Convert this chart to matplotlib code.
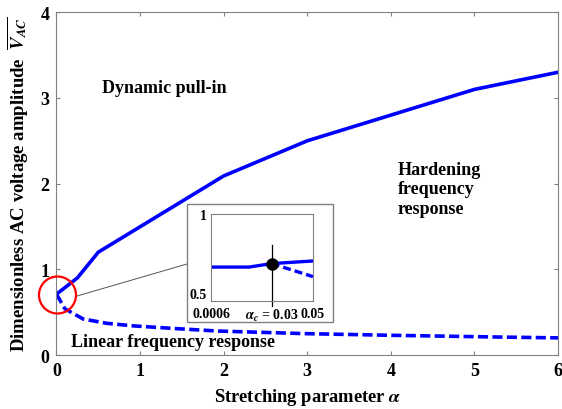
import numpy as np
import matplotlib
matplotlib.use("Agg")
import matplotlib.pyplot as plt
from matplotlib.patches import Ellipse, Rectangle
from matplotlib.lines import Line2D

plt.rcParams['font.family'] = ['Liberation Serif', 'DejaVu Serif']
plt.rcParams['font.weight'] = 'bold'
plt.rcParams['mathtext.fontset'] = 'stix'

# main curves
alpha_hard = [0.0, 0.25, 0.5, 2.0, 3.0, 4.0, 5.0, 6.0]
v_hard = [0.71, 0.9, 1.2, 2.09, 2.5, 2.8, 3.1, 3.3]
alpha_lin = [0.0, 0.1, 0.32, 0.6, 0.92, 1.4, 1.92, 2.95, 4.0, 5.27, 6.0]
v_lin = [0.71, 0.54, 0.42, 0.37, 0.34, 0.31, 0.28, 0.25, 0.23, 0.21, 0.2]

# inset (zoom near alpha_c)
alpha_c = 0.03
v_c = 0.715
in_alpha_hard = [0.0006, 0.019, 0.03, 0.05]
in_v_hard = [0.695, 0.695, 0.715, 0.73]
in_alpha_lin = [0.03, 0.05]
in_v_lin = [0.715, 0.64]

blue = '#0000FF'
gray = '#808080'
W, H = 562, 410

fig = plt.figure(figsize=(5.62, 4.10), dpi=100)
ax = fig.add_axes([0.1005, 0.1317, 0.8925, 0.8359])

ax.plot(alpha_hard, v_hard, color=blue, lw=2.6, solid_joinstyle='miter')
ax.plot(alpha_lin, v_lin, color=blue, lw=2.6, ls=(0, (2.8, 1.2)))

ax.set_xlim(0, 6)
ax.set_ylim(0, 4)
ax.set_xticks(range(7))
ax.set_yticks(range(5))
for s in ax.spines.values():
    s.set_color(gray)
    s.set_linewidth(0.8)
ax.tick_params(direction='in', length=3, color=gray, labelsize=13, top=True, right=True, pad=5)
for lab in ax.get_xticklabels() + ax.get_yticklabels():
    lab.set_fontweight('bold')

ax.set_xlabel(r'Stretching parameter $\alpha$', fontsize=13.3, fontweight='bold', labelpad=5)
ax.set_ylabel(r'Dimensionless AC voltage amplitude  $\overline{V_{AC}}$', fontsize=13.5,
              fontweight='bold', labelpad=7)

ax.text(0.55, 3.12, 'Dynamic pull-in', fontsize=13, fontweight='bold', va='center')
ax.text(4.08, 2.27, 'Hardening\nfrequency\nresponse', fontsize=13, fontweight='bold',
        va='top', linespacing=1.2)
ax.text(0.17, 0.16, 'Linear frequency response', fontsize=13, fontweight='bold', va='center')

# red circle around the critical point
circ = Ellipse((57.5 / W, (H - 296) / H), 37 / W, 37 / H, transform=fig.transFigure,
               fill=False, ec='red', lw=1.6, zorder=5)
fig.patches.append(circ)
# connector line
fig.add_artist(Line2D([77 / W, 187 / W], [(H - 297) / H, (H - 265) / H],
                      color='#555555', lw=0.7, zorder=5))
# inset frame
frame = Rectangle((187 / W, (H - 323) / H), 146 / W, 118 / H,
                  transform=fig.transFigure, fc='white', ec=gray, lw=1.0, zorder=5)
fig.patches.append(frame)

axin = fig.add_axes([211 / W, (H - 302) / H, 102 / W, 87 / H])
axin.set_zorder(10)
axin.plot(in_alpha_hard, in_v_hard, color=blue, lw=2.4)
axin.plot(in_alpha_lin, in_v_lin, color=blue, lw=2.4, ls=(0, (2.4, 1.2)))
axin.plot([alpha_c, alpha_c], [0.47, 0.82], color='black', lw=0.9, clip_on=False)
axin.plot([alpha_c], [v_c], 'o', color='black', ms=8)
axin.set_xlim(0.0006, 0.05)
axin.set_ylim(0.5, 1.0)
axin.set_xticks([0.0006, alpha_c, 0.05])
axin.set_xticklabels(['0.0006', r'$\alpha_c$ = 0.03', '0.05'])
axin.set_yticks([0.5, 1.0])
axin.set_yticklabels(['0.5', '1'])
axin.tick_params(axis='x', length=0, labelsize=10, pad=4)
axin.tick_params(axis='y', length=0, labelsize=10, pad=3)
for lab in axin.get_xticklabels() + axin.get_yticklabels():
    lab.set_fontweight('bold')
axin.get_yticklabels()[0].set_va('bottom')
for s in axin.spines.values():
    s.set_color(gray)
    s.set_linewidth(0.8)

fig.savefig('out.png', dpi=100)
